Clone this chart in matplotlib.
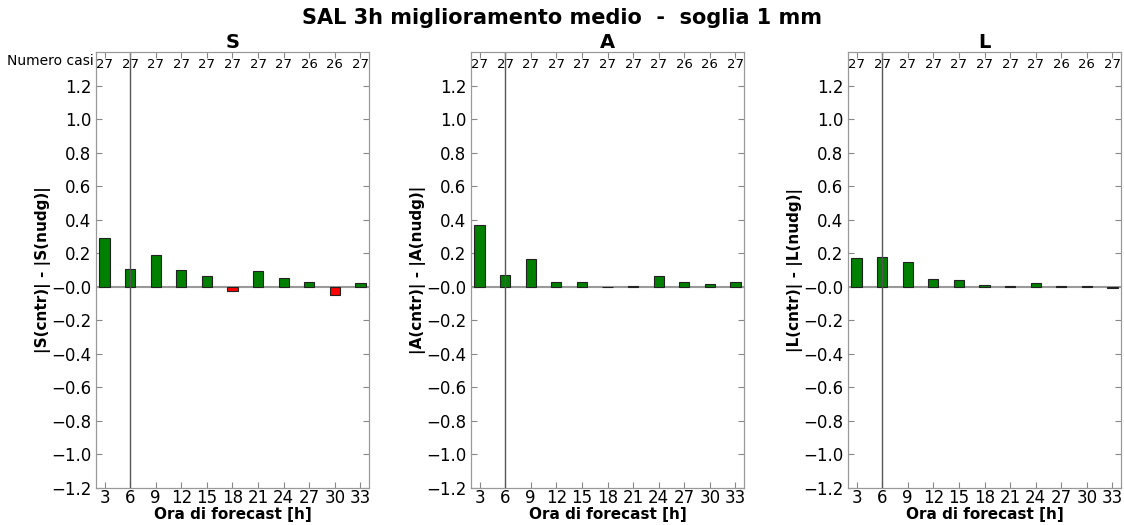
import numpy as np
import matplotlib
matplotlib.use("Agg")
import matplotlib.pyplot as plt

# ore di forecast e numero di casi
ore = [3, 6, 9, 12, 15, 18, 21, 24, 27, 30, 33]
numero_casi = [27, 27, 27, 27, 27, 27, 27, 27, 26, 26, 27]

# |X(cntr)| - |X(nudg)| per ogni componente SAL
diff_S = [0.293, 0.104, 0.192, 0.100, 0.062, -0.024, 0.092, 0.050, 0.030, -0.051, 0.020]
diff_A = [0.370, 0.069, 0.167, 0.031, 0.031, -0.003, 0.005, 0.066, 0.028, 0.014, 0.028]
diff_L = [0.174, 0.180, 0.148, 0.046, 0.038, 0.012, 0.004, 0.022, 0.004, 0.002, -0.010]

pannelli = [("S", diff_S), ("A", diff_A), ("L", diff_L)]
sinistre = [96, 471, 848]

fig = plt.figure(figsize=(11.24, 5.25), dpi=100)
fig.suptitle("SAL 3h miglioramento medio  -  soglia 1 mm", fontsize=15,
             fontweight="bold", y=0.985)

for i, (nome, valori) in enumerate(pannelli):
    ax = fig.add_axes([sinistre[i] / 1124, 37 / 525, 273 / 1124, 436 / 525])
    colori = ["green" if v >= 0 else "red" for v in valori]
    ax.bar(ore, valori, width=1.2, color=colori, edgecolor="#222222",
           linewidth=0.8, zorder=3)
    ax.axhline(0, color="#999999", linewidth=1.5, zorder=2)
    ax.axvline(6, color="#555555", linewidth=1, zorder=4)
    ax.set_xlim(2, 34)
    ax.set_ylim(-1.2, 1.4)
    ax.set_xticks(ore)
    yt = np.arange(-1.2, 1.21, 0.2)
    ax.set_yticks(yt)
    ax.set_yticklabels([f"{t:.1f}".replace("-", "\u2212") for t in yt])
    ax.tick_params(direction="in", top=False, right=True, labelsize=12,
                   color="#888888", length=4)
    ax.tick_params(axis="x", pad=1)
    for sp in ax.spines.values():
        sp.set_color("#999999")
    ax.set_xlabel("Ora di forecast [h]", fontsize=11, fontweight="bold", labelpad=0)
    ax.set_ylabel(f"|{nome}(cntr)| - |{nome}(nudg)|", fontsize=11,
                  fontweight="bold", labelpad=0)
    ax.set_title(nome, fontsize=14, fontweight="bold", pad=2)

    top = ax.twiny()
    top.set_xlim(ax.get_xlim())
    top.set_xticks(ore)
    top.set_xticklabels([str(n) for n in numero_casi], fontsize=9.5)
    top.tick_params(direction="in", pad=-14, color="#888888", length=4)
    for sp in top.spines.values():
        sp.set_color("#999999")
    if i == 0:
        ax.text(-0.01, 0.979, "Numero casi", transform=ax.transAxes,
                ha="right", va="center", fontsize=10)

fig.savefig("out.png", dpi=100)
